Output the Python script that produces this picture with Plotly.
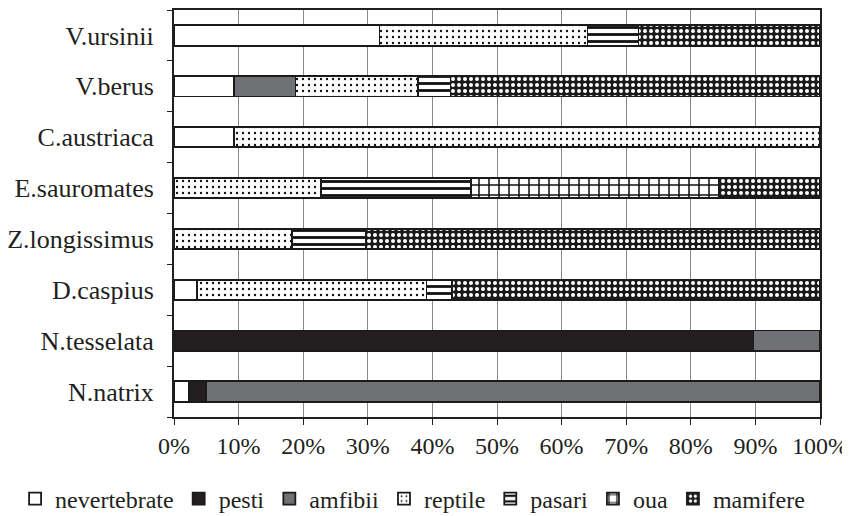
import plotly.graph_objects as go

categories = ["N.natrix", "N.tesselata", "D.caspius", "Z.longissimus",
              "E.sauromates", "C.austriaca", "V.berus", "V.ursinii"]

nevertebrate = [2.3, None, 3.5, None, None, 9.3, 9.3, 31.8]
pesti = [2.7, 89.7, None, None, None, None, None, None]
amfibii = [95.0, 10.3, None, None, None, None, 9.5, None]
reptile = [None, None, 35.6, 18.3, 22.8, 90.7, 19.0, 32.2]
pasari = [None, None, 3.9, 11.4, 23.2, None, 5.0, 7.9]
oua = [None, None, None, None, 38.4, None, None, None]
mamifere = [None, None, 57.0, 70.3, 15.6, None, 57.2, 28.1]

x_ticks = [0, 10, 20, 30, 40, 50, 60, 70, 80, 90, 100]
x_tick_labels = ["0%", "10%", "20%", "30%", "40%", "50%", "60%", "70%", "80%", "90%", "100%"]

FONT = "Liberation Serif, DejaVu Serif, serif"

series = [
    ("nevertebrate", nevertebrate, dict(color="white")),
    ("pesti", pesti, dict(color="#231f20")),
    ("amfibii", amfibii, dict(color="#707174")),
    ("reptile", reptile, dict(color="white",
        pattern=dict(shape=".", fgcolor="#111", bgcolor="white", size=6, solidity=0.12, fillmode="replace"))),
    ("pasari", pasari, dict(color="white",
        pattern=dict(shape="-", fgcolor="#111", bgcolor="white", size=7, solidity=0.4, fillmode="replace"))),
    ("oua", oua, dict(color="white",
        pattern=dict(shape="+", fgcolor="#111", bgcolor="white", size=10, solidity=0.28, fillmode="replace"))),
    ("mamifere", mamifere, dict(color="#1a1a1a",
        pattern=dict(shape=".", fgcolor="white", bgcolor="#1a1a1a", size=6, solidity=0.35, fillmode="replace"))),
]

fig = go.Figure()
for name, vals, m in series:
    marker = dict(line=dict(color="#1a1a1a", width=1.8))
    marker.update(m)
    fig.add_trace(go.Bar(
        name=name, y=categories, x=vals, orientation="h", marker=marker,
    ))

fig.update_layout(
    width=850, height=516,
    barmode="stack", bargap=0.6,
    plot_bgcolor="white", paper_bgcolor="white",
    margin=dict(l=166, r=38, t=2, b=102),
    font=dict(family=FONT, size=23, color="#231f20"),
    legend=dict(orientation="h", x=-0.246, xanchor="left",
                y=-0.2015, yanchor="middle",
                font=dict(family=FONT, size=24, color="#231f20"), itemwidth=30,
                traceorder="normal", tracegroupgap=0, itemclick=False,
                bgcolor="rgba(0,0,0,0)"),
    xaxis=dict(range=[0, 100], tickvals=x_ticks, ticktext=x_tick_labels,
               tickfont=dict(family=FONT, size=24), automargin=False,
               showgrid=True, gridcolor="#8a8a8a", gridwidth=1,
               ticks="outside", ticklen=6, tickcolor="#231f20",
               showline=True, linecolor="#231f20", linewidth=2, mirror=True,
               zeroline=False, fixedrange=True),
    yaxis=dict(categoryorder="array", categoryarray=categories,
               tickfont=dict(family=FONT, size=26), automargin=False,
               ticks="outside", ticklen=5, tickson="boundaries", tickcolor="#231f20",
               showline=True, linecolor="#231f20", linewidth=2, mirror=True,
               showgrid=False, ticksuffix="  ", fixedrange=True),
)

fig.write_html("out.html")
